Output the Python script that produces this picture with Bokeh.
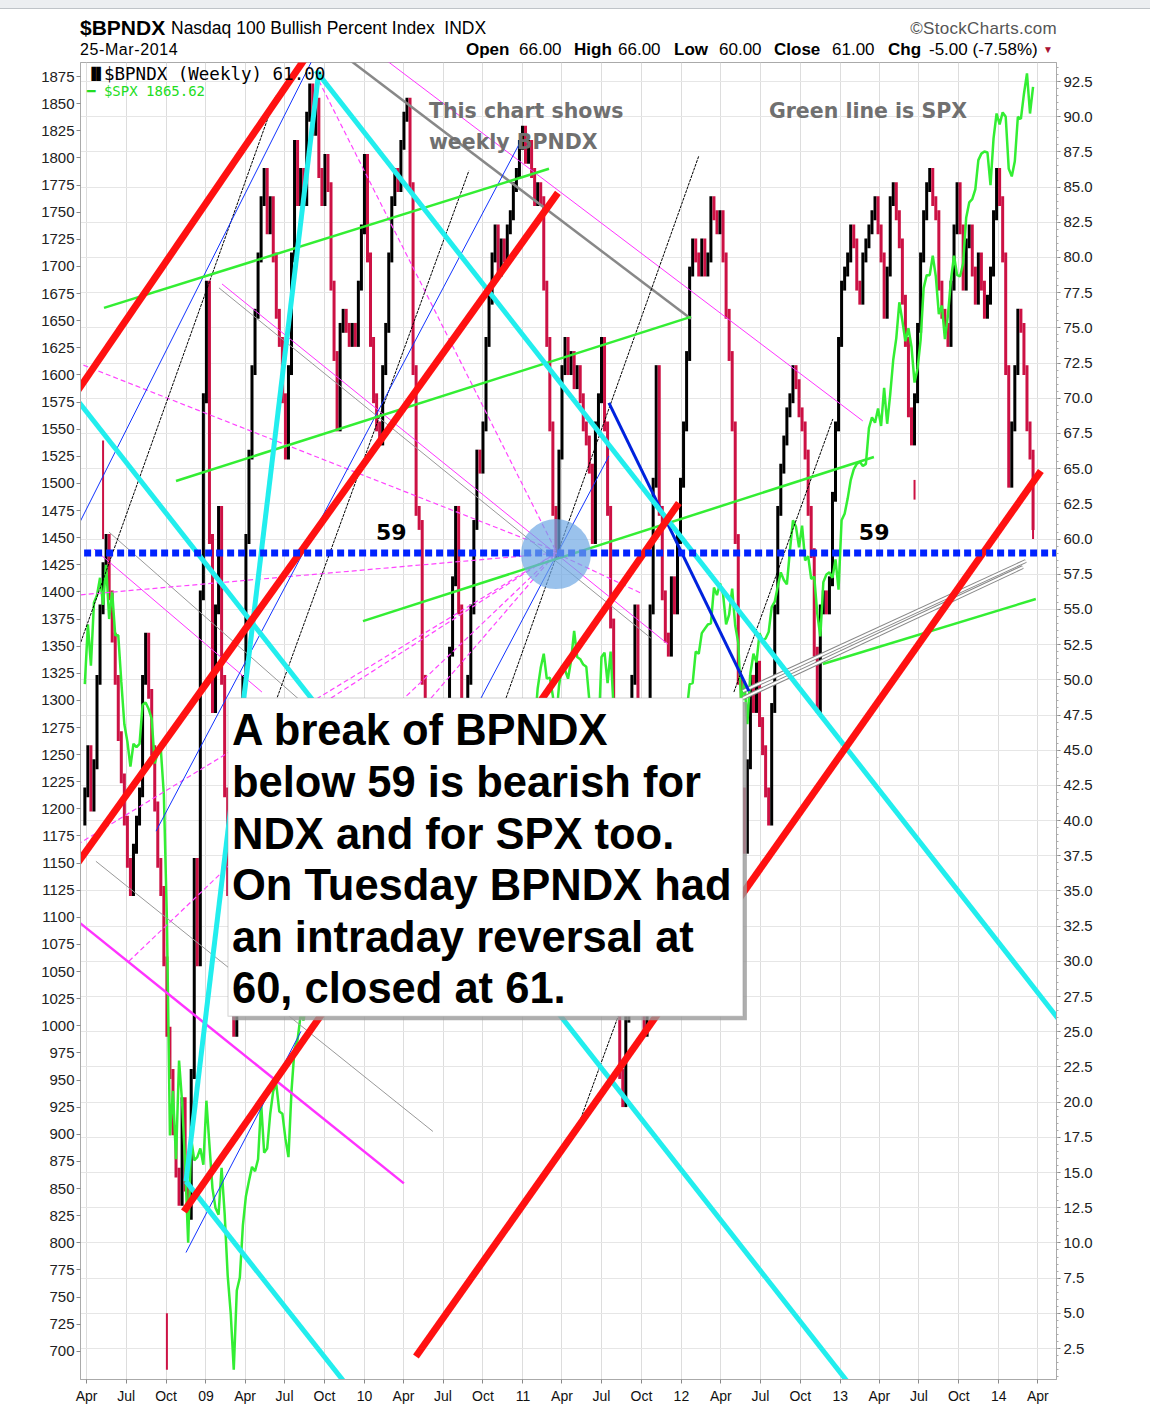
import pandas as pd
from datetime import datetime, timedelta
from bokeh.plotting import figure
from bokeh.layouts import column
from bokeh.models import (Range1d, LinearAxis, FixedTicker, PrintfTickFormatter,
                          CustomJSTickFormatter, Label, BoxAnnotation, Div)
from bokeh.embed import file_html
from bokeh.resources import INLINE

# ---------------- data ----------------
first_week = "2008-03-28"
bpndx_first_open = 40
bpndx_close = [
    42, 45, 41, 44, 50, 55, 58, 60, 56, 53,
    50, 46, 43, 40, 37, 35, 38, 40, 42, 50,
    53, 49, 45, 41, 37, 35, 30, 25, 22, 18,
    15, 13, 20, 14, 12, 22, 37, 30, 56, 70,
    78, 60, 48, 55, 62, 50, 42, 35, 28, 25,
    32, 42, 50, 60, 66, 72, 76, 80, 84, 86,
    82, 84, 80, 76, 74, 70, 66, 72, 80, 88,
    84, 86, 84, 90, 92, 89, 91, 86, 84, 87,
    85, 78, 73, 68, 75, 76, 75, 74, 75, 74,
    78, 82, 87, 80, 74, 70, 68, 67, 72, 75,
    80, 84, 86, 85, 88, 90, 91, 85, 72, 62,
    61, 50, 42, 38, 45, 48, 40, 35, 42, 38,
    52, 57, 62, 55, 48, 45, 50, 55, 61, 66,
    65, 68, 74, 77, 80, 82, 79, 81, 80, 82,
    83, 85, 86, 88, 89, 87, 88, 86, 84, 85,
    84, 78, 74, 68, 62, 59, 66, 72, 74, 72,
    73, 71, 72, 70, 68, 67, 65, 60, 68, 70,
    74, 68, 62, 54, 45, 35, 22, 20, 26, 40,
    50, 55, 45, 35, 25, 40, 55, 64, 72, 62,
    56, 53, 52, 57, 55, 60, 64, 68, 73, 79,
    81, 80, 79, 81, 79, 80, 84, 83, 82, 83,
    80, 76, 73, 68, 60, 50, 42, 38, 44, 50,
    48, 51, 47, 45, 42, 40, 48, 55, 62, 65,
    67, 69, 70, 72, 71, 69, 68, 66, 62, 59,
    52, 48, 55, 56, 55, 57, 63, 68, 74, 78,
    79, 80, 82, 81, 78, 77, 80, 81, 82, 83,
    84, 82, 80, 76, 79, 84, 85, 83, 81, 77,
    74, 69, 67, 70, 75, 80, 83, 85, 86, 84,
    83, 78, 76, 75, 74, 78, 82, 85, 82, 78,
    81, 82, 79, 77, 80, 78, 76, 77, 79, 83,
    86, 84, 80, 72, 64, 68, 72, 76, 75, 72,
    68, 66, 61,
]
spx_close = [
    # 2008
    1315, 1370, 1332, 1390, 1397, 1413, 1388, 1425, 1375, 1400, 1360, 1360, 1317, 1278,
    1262, 1239, 1260, 1257, 1260, 1296, 1298, 1292, 1283, 1242, 1252, 1255, 1213, 1099,
    899, 940, 877, 968, 930, 873, 800, 896, 876, 879, 887, 872,
    # 2009
    931, 890, 850, 832, 826, 869, 827, 770, 735, 683, 756, 768, 816, 843, 857, 870, 866,
    877, 929, 883, 887, 919, 940, 946, 921, 919, 896, 879, 940, 979, 987, 1010, 1005,
    1026, 1029, 1016, 1042, 1068, 1044, 1025, 1072, 1088, 1080, 1036, 1069, 1093, 1091,
    1091, 1106, 1106, 1102, 1127, 1115,
    # 2010
    1145, 1136, 1092, 1074, 1067, 1075, 1109, 1104, 1139, 1150, 1160, 1167, 1179, 1194,
    1192, 1217, 1187, 1111, 1136, 1088, 1089, 1065, 1092, 1117, 1076, 1022, 1078, 1065,
    1102, 1102, 1122, 1079, 1071, 1065, 1105, 1110, 1125, 1149, 1147, 1166, 1176, 1183,
    1183, 1225, 1199, 1199, 1189, 1224, 1240, 1244, 1257, 1258,
    # 2011
    1272, 1293, 1284, 1276, 1311, 1330, 1343, 1320, 1321, 1304, 1279, 1313, 1332, 1328,
    1320, 1337, 1364, 1340, 1338, 1333, 1331, 1300, 1271, 1272, 1268, 1340, 1344, 1316,
    1345, 1292, 1199, 1179, 1124, 1177, 1174, 1154, 1216, 1136, 1131, 1155, 1225, 1238,
    1285, 1253, 1263, 1216, 1159, 1244, 1255, 1219, 1265, 1258,
    # 2012
    1278, 1289, 1315, 1316, 1345, 1343, 1362, 1366, 1370, 1371, 1404, 1397, 1408, 1398,
    1370, 1379, 1403, 1369, 1353, 1295, 1318, 1278, 1325, 1343, 1335, 1362, 1355, 1357,
    1363, 1386, 1391, 1405, 1418, 1411, 1407, 1438, 1466, 1460, 1441, 1461, 1429, 1433,
    1412, 1414, 1380, 1359, 1409, 1416, 1418, 1413, 1430, 1402,
    # 2013
    1466, 1472, 1486, 1503, 1513, 1518, 1520, 1516, 1518, 1551, 1561, 1556, 1569, 1553,
    1588, 1555, 1582, 1614, 1634, 1667, 1650, 1631, 1643, 1626, 1593, 1606, 1632, 1680,
    1692, 1692, 1710, 1691, 1656, 1664, 1633, 1655, 1688, 1710, 1692, 1691, 1703, 1745,
    1759, 1762, 1771, 1798, 1804, 1806, 1805, 1775, 1818, 1841,
    # 2014
    1831, 1842, 1838, 1790, 1783, 1797, 1838, 1836, 1859, 1878, 1841, 1865.62,
]
# isolated weekly ranges not joined to the previous close
spike_dates = ["2008-05-09", "2008-10-03", "2013-06-21", "2014-03-21"]
spike_lo = [60, 1, 62.8, 60]
spike_hi = [67, 5, 64.2, 66]

spx_ticks = list(range(700, 1876, 25))
bp_ticks = [t / 2 for t in range(5, 186, 5)]

# hand-drawn trend lines: (start year, start BPNDX, end year, end BPNDX)
red_lines = [(2007.758, 63.41, 2009.788, 96.82), (2008.086, 35.34, 2011.219, 84.59),
             (2008.861, 12.24, 2011.982, 62.56), (2010.324, 1.93, 2014.265, 64.83)]
cyan_lines = [(2007.758, 76.06, 2013.193, -1.98), (2009.694, 93.26, 2014.782, 20.06),
              (2008.874, 14.37, 2010.040, -2.27), (2008.874, 14.37, 2009.712, 93.26)]
blue_thick_lines = [(2011.541, 69.67, 2012.424, 49.20)]
blue_thin_lines = [(2007.758, 51.19, 2009.668, 93.97), (2008.685, 39.25, 2010.986, 88.29),
                   (2008.874, 9.32, 2009.599, 25.03), (2010.734, 48.70, 2011.541, 65.90)]
black_lines = [(2007.846, 41.17, 2009.441, 91.49), (2009.441, 48.49, 2010.658, 86.16),
               (2010.892, 48.70, 2012.108, 87.22), (2012.329, 49.13, 2012.953, 68.53),
               (2011.364, 18.85, 2011.604, 26.24)]
gray_thick_lines = [(2009.788, 95.04, 2012.058, 75.64)]
gray_thin_lines = [(2008.388, 60.50, 2009.599, 48.49), (2009.082, 77.84, 2011.806, 52.96),
                   (2008.306, 37.11, 2010.431, 17.92)]
channel_lines = [(2012.386, 48.70, 2014.151, 58.01), (2012.386, 49.20, 2014.170, 58.44)]
green_lines = [(2008.357, 76.42, 2011.163, 86.30), (2008.811, 64.12, 2012.058, 75.78),
               (2009.990, 54.17, 2013.212, 65.83), (2012.890, 51.12, 2014.233, 55.74)]
magenta_thick_lines = [(2008.098, 33.70, 2010.248, 14.23)]
magenta_thin_lines = [(2009.807, 96.82, 2013.142, 68.39), (2008.294, 59.29, 2009.353, 49.13),
                      (2009.101, 78.12, 2011.913, 52.54)]
magenta_dash_lines = [(2007.758, 74.43, 2011.207, 59.15), (2007.758, 55.59, 2011.207, 59.0),
                      (2007.758, 35.34, 2011.207, 59.0), (2008.514, 30.01, 2011.207, 59.0),
                      (2009.712, 92.55, 2011.207, 59.15), (2009.788, 48.70, 2011.207, 59.0),
                      (2010.419, 48.70, 2011.207, 59.0), (2011.207, 59.0, 2011.743, 56.16)]
break_level = 59
focus_point = (2011.207, 58.93)

# ---------------- helpers ----------------
EPOCH = datetime(1970, 1, 1)


def to_ms(d):
    return (d - EPOCH).total_seconds() * 1000.0


def yr_ms(y):
    return to_ms(datetime(2009, 1, 1) + timedelta(days=(y - 2009) * 365.25))


dates = pd.date_range(first_week, periods=len(bpndx_close), freq="W-FRI")
x_ms = [to_ms(d.to_pydatetime()) for d in dates]
prev = [bpndx_first_open] + bpndx_close[:-1]
bar_lo = [min(a, b) - 0.35 for a, b in zip(prev, bpndx_close)]
bar_hi = [max(a, b) + 0.35 for a, b in zip(prev, bpndx_close)]
bar_col = ["#cc1144" if c < o else "#000000" for o, c in zip(prev, bpndx_close)]

SANS = "Liberation Sans"
DJ = "DejaVu Sans"
MONO = "DejaVu Sans Mono"

p = figure(width=1150, height=1344, output_backend="svg", toolbar_location=None,
           x_range=Range1d(to_ms(datetime(2008, 3, 18)), to_ms(datetime(2014, 5, 14))),
           y_range=Range1d(0.3, 93.85), y_axis_location="right",
           min_border_left=80, min_border_right=94, min_border_top=0, min_border_bottom=26,
           margin=0)
p.extra_y_ranges = {"spx": Range1d(674, 1888)}
p.outline_line_color = "#aaaaaa"
p.background_fill_color = "white"
p.border_fill_color = "white"

# axes
quarters = [to_ms(d.to_pydatetime()) for d in pd.date_range("2008-04-01", "2014-04-01", freq="QS-JAN")]
xa = p.xaxis[0]
xa.ticker = FixedTicker(ticks=quarters, minor_ticks=[])
xa.formatter = CustomJSTickFormatter(code="""
const d = new Date(tick);
const m = d.getUTCMonth();
if (m == 0) { return String(d.getUTCFullYear() % 100).padStart(2, '0'); }
return ['Jan','Feb','Mar','Apr','May','Jun','Jul','Aug','Sep','Oct','Nov','Dec'][m];
""")
xa.major_label_text_font = SANS
xa.major_label_text_font_size = "14px"
xa.major_label_text_color = "#111111"
xa.axis_line_color = "#aaaaaa"
xa.major_tick_line_color = "#888888"
xa.major_tick_out = 4
xa.major_tick_in = 0
xa.major_label_standoff = 4

ya = p.yaxis[0]
ya.ticker = FixedTicker(ticks=bp_ticks, minor_ticks=[t / 2 for t in range(1, 188)])
ya.formatter = PrintfTickFormatter(format="%.1f")
ya.major_label_text_font = SANS
ya.major_label_text_font_size = "15px"
ya.major_label_text_color = "#222222"
ya.axis_line_color = "#aaaaaa"
ya.major_tick_line_color = "#888888"
ya.minor_tick_line_color = "#aaaaaa"
ya.major_tick_out = 4
ya.major_tick_in = 0
ya.minor_tick_out = 2
ya.minor_tick_in = 0
ya.major_label_standoff = 3

la = LinearAxis(y_range_name="spx", ticker=FixedTicker(ticks=spx_ticks, minor_ticks=[]))
la.major_label_text_font = SANS
la.major_label_text_font_size = "15px"
la.major_label_text_color = "#222222"
la.axis_line_color = "#aaaaaa"
la.major_tick_line_color = "#888888"
la.major_tick_out = 4
la.major_tick_in = 0
la.major_label_standoff = 2
p.add_layout(la, "left")

p.xgrid.grid_line_color = "#dddddd"
p.ygrid.grid_line_color = "#e6e6e6"

# price bars
p.segment(x0=x_ms, y0=bar_lo, x1=x_ms, y1=bar_hi, line_color=bar_col, line_width=3)
sx = [to_ms(datetime.strptime(d, "%Y-%m-%d")) for d in spike_dates]
p.segment(x0=sx, y0=spike_lo, x1=sx, y1=spike_hi, line_color="#cc1144", line_width=2)

# SPX overlay
p.line(x_ms, spx_close, y_range_name="spx", line_color="#33ee33", line_width=2.5)


def draw(lines, **kw):
    p.segment(x0=[yr_ms(a) for a, _, _, _ in lines], y0=[b for _, b, _, _ in lines],
              x1=[yr_ms(c) for _, _, c, _ in lines], y1=[d for _, _, _, d in lines], **kw)


draw(gray_thin_lines, line_color="#999999", line_width=1)
draw(gray_thick_lines, line_color="#888888", line_width=2.5)
draw(magenta_dash_lines, line_color="#ff44ff", line_width=1.2, line_dash="5 3")
draw(magenta_thin_lines, line_color="#ff33ff", line_width=1)
draw(magenta_thick_lines, line_color="#ff33ff", line_width=2.5)
draw(black_lines, line_color="#000000", line_width=1, line_dash="3 1")
draw(blue_thin_lines, line_color="#1133ff", line_width=1)
draw(channel_lines, line_color="#888888", line_width=4)
draw(channel_lines, line_color="#ffffff", line_width=2)
draw(green_lines, line_color="#33ee33", line_width=2.5)
draw(blue_thick_lines, line_color="#0022dd", line_width=3)
draw(cyan_lines, line_color="#22eeee", line_width=5)
draw(red_lines, line_color="#ff1111", line_width=7)

# 59 level and focus circle
p.segment(x0=[to_ms(datetime(2008, 3, 1))], y0=[break_level], x1=[to_ms(datetime(2014, 6, 1))],
          y1=[break_level], line_color="#0022ff", line_width=7, line_dash="7 4")
p.scatter(x=[yr_ms(focus_point[0])], y=[focus_point[1]], size=70, fill_color="#6fa8e4",
          fill_alpha=0.7, line_color=None)


def lab(x, y, text, size, color="#000000", font=SANS, style="normal", align="left"):
    p.add_layout(Label(x=x, y=y, text=text, text_font=font, text_font_size=size,
                       text_color=color, text_font_style=style, text_align=align,
                       text_baseline="alphabetic"))


# in-chart notes
lab(yr_ms(2010.072), 60.50, "59", "22px", font=DJ, style="bold")
lab(yr_ms(2013.117), 60.50, "59", "22px", font=DJ, style="bold")
lab(yr_ms(2010.406), 90.42, "This chart shows", "20.5px", color="#707070", font=DJ, style="bold")
lab(yr_ms(2010.406), 88.22, "weekly BPNDX", "20.5px", color="#707070", font=DJ, style="bold")
lab(yr_ms(2012.550), 90.42, "Green line is SPX", "20.5px", color="#707070", font=DJ, style="bold")
lab(yr_ms(2008.250), 93.05, "\u2590\u258c", "12px", font=DJ)
lab(yr_ms(2008.357), 93.05, "$BPNDX (Weekly) 61.00", "17.5px", font=MONO)
lab(yr_ms(2008.250), 91.85, "\u2501 $SPX 1865.62", "14px", color="#22dd22", font=MONO)

# comment box
p.add_layout(BoxAnnotation(left=yr_ms(2009.164), right=yr_ms(2012.411), top=48.42, bottom=25.82,
                           fill_color="#9a9a9a", fill_alpha=0.8, line_color=None))
p.add_layout(BoxAnnotation(left=yr_ms(2009.139), right=yr_ms(2012.386), top=48.70, bottom=26.10,
                           fill_color="#ffffff", fill_alpha=1.0, line_color="#999999",
                           line_width=1.5))
box_lines = ["A break of BPNDX", "below 59 is bearish for", "NDX and for SPX too.",
             "On Tuesday BPNDX had", "an intraday reversal at", "60, closed at 61."]
for t, yb in zip(box_lines, [46.42, 42.73, 39.03, 35.40, 31.71, 28.08]):
    lab(yr_ms(2009.164), yb, t, "43.5px", style="bold")

# header above the chart frame
F = "font-family:'Liberation Sans',Arial,sans-serif;position:absolute;white-space:nowrap;"
R = "top:41px;font-size:17px;line-height:17px;"
header = f"""
<div style="position:relative;width:1150px;height:62px;color:#000;">
 <div style="position:absolute;left:0;top:0;width:1150px;height:9px;background:#eceef1;border-bottom:1px solid #bfc3c8;"></div>
 <span style="{F}left:80px;top:17px;font-size:21px;line-height:21px;font-weight:bold;">$BPNDX</span>
 <span style="{F}left:171px;top:20px;font-size:17.5px;line-height:17.5px;">Nasdaq 100 Bullish Percent Index&nbsp;&nbsp;INDX</span>
 <span style="{F}right:93px;top:20px;font-size:17px;line-height:17px;color:#555;letter-spacing:0.3px;">&copy;StockCharts.com</span>
 <span style="{F}left:80px;top:42px;font-size:16px;line-height:16px;letter-spacing:0.6px;">25-Mar-2014</span>
 <span style="{F}{R}left:466px;font-weight:bold;">Open</span>
 <span style="{F}{R}left:519px;">66.00</span>
 <span style="{F}{R}left:574px;font-weight:bold;">High</span>
 <span style="{F}{R}left:618px;">66.00</span>
 <span style="{F}{R}left:674px;font-weight:bold;">Low</span>
 <span style="{F}{R}left:719px;">60.00</span>
 <span style="{F}{R}left:774px;font-weight:bold;">Close</span>
 <span style="{F}{R}left:832px;">61.00</span>
 <span style="{F}{R}left:888px;font-weight:bold;">Chg</span>
 <span style="{F}{R}left:929px;">-5.00 (-7.58%)</span>
 <span style="{F}left:1043px;top:45px;font-size:10px;line-height:10px;color:#aa1133;">&#9660;</span>
</div>
"""
head = Div(text=header, width=1150, height=62, margin=0)

layout = column(head, p, spacing=0, margin=0)
open("out.html", "w").write(file_html(layout, INLINE))
